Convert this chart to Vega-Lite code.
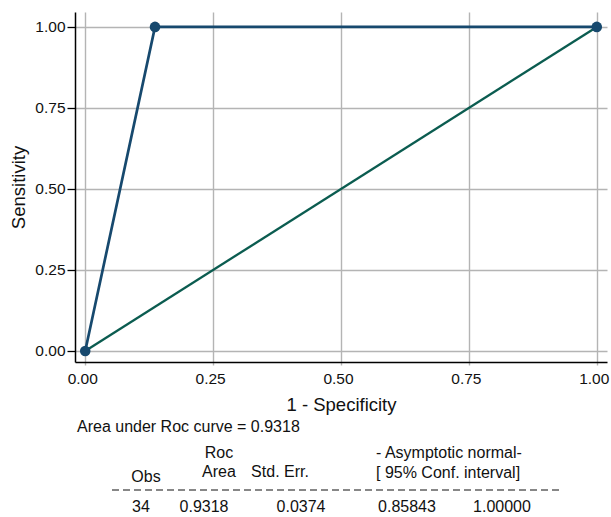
{
  "$schema": "https://vega.github.io/schema/vega-lite/v6.json",
  "autosize": {"type": "none"},
  "padding": {"left": 75, "top": 12, "right": 4, "bottom": 155},
  "width": 532,
  "height": 350,
  "background": "white",
  "config": {
    "view": {"stroke": null},
    "font": "Liberation Sans",
    "text": {"font": "Liberation Sans", "fontSize": 16, "color": "#111111"}
  },
  "layer": [
    {
      "layer": [
        {
          "data": {"values": [{"fpr": 0, "sens": 0}, {"fpr": 1, "sens": 1}]},
          "mark": {"type": "line", "color": "#0b5c50", "strokeWidth": 2.3},
          "encoding": {
            "x": {
              "field": "fpr", "type": "quantitative",
              "scale": {"domain": [-0.02, 1.02], "nice": false, "zero": false},
              "axis": {
                "title": "1 - Specificity",
                "values": [0, 0.25, 0.5, 0.75, 1],
                "format": ".2f",
                "grid": true, "gridColor": "#b4b4b4", "gridWidth": 1.4,
                "domainColor": "#000000", "domainWidth": 1.5,
                "tickColor": "#b4b4b4", "tickSize": 3, "tickWidth": 1.4,
                "labelFontSize": 15.5, "labelColor": "#111111", "labelPadding": 6,
                "labelFont": "Liberation Sans", "labelFlush": false, "labelOffset": -3,
                "titleFontSize": 18.5, "titleFontWeight": "normal", "titleColor": "#111111",
                "titleFont": "Liberation Sans", "titlePadding": 9
              }
            },
            "y": {
              "field": "sens", "type": "quantitative",
              "scale": {"domain": [-0.034, 1.046], "nice": false, "zero": false},
              "axis": {
                "title": "Sensitivity",
                "values": [0, 0.25, 0.5, 0.75, 1],
                "format": ".2f",
                "grid": true, "gridColor": "#b4b4b4", "gridWidth": 1.4,
                "domainColor": "#000000", "domainWidth": 1.5,
                "tickColor": "#000000", "tickSize": 8, "tickWidth": 1.3,
                "labelFontSize": 15.5, "labelColor": "#111111", "labelPadding": 2,
                "labelFont": "Liberation Sans", "labelFlush": false,
                "titleFontSize": 18.5, "titleFontWeight": "normal", "titleColor": "#111111",
                "titleFont": "Liberation Sans", "titlePadding": 6
              }
            }
          }
        },
        {
          "data": {"values": [{"fpr": 0, "sens": 0}, {"fpr": 0.1364, "sens": 1}, {"fpr": 1, "sens": 1}]},
          "mark": {"type": "line", "color": "#17496e", "strokeWidth": 2.7},
          "encoding": {
            "x": {"field": "fpr", "type": "quantitative"},
            "y": {"field": "sens", "type": "quantitative"}
          }
        },
        {
          "data": {"values": [{"fpr": 0, "sens": 0}, {"fpr": 0.1364, "sens": 1}, {"fpr": 1, "sens": 1}]},
          "mark": {"type": "point", "filled": true, "color": "#17496e", "size": 112, "opacity": 1},
          "encoding": {
            "x": {"field": "fpr", "type": "quantitative"},
            "y": {"field": "sens", "type": "quantitative"}
          }
        }
      ]
    },
    {
      "data": {"values": [
        {"text": "Area under Roc curve = 0.9318", "col": 0, "line": 0},
        {"text": "- Asymptotic normal-", "col": 1, "line": 1},
        {"text": "[ 95% Conf. interval]", "col": 1, "line": 2}
      ]},
      "mark": {"type": "text", "align": "left", "baseline": "middle"},
      "encoding": {
        "x": {"field": "col", "type": "quantitative", "axis": null,
              "scale": {"domain": [0, 1], "range": [2, 301], "nice": false, "zero": false}},
        "y": {"field": "line", "type": "quantitative", "axis": null,
              "scale": {"domain": [0, 1, 2], "range": [415, 441, 461], "nice": false, "zero": false}},
        "text": {"field": "text"}
      }
    },
    {
      "data": {"values": [
        {"text": "Obs", "col": 0, "line": 2},
        {"text": "Roc", "col": 1, "line": 0},
        {"text": "Area", "col": 1, "line": 1},
        {"text": "Std. Err.", "col": 2, "line": 1}
      ]},
      "mark": {"type": "text", "align": "center", "baseline": "middle"},
      "encoding": {
        "x": {"field": "col", "type": "quantitative", "axis": null,
              "scale": {"domain": [0, 1, 2], "range": [71, 144, 205], "nice": false, "zero": false}},
        "y": {"field": "line", "type": "quantitative", "axis": null,
              "scale": {"domain": [0, 1, 2], "range": [441, 460, 465], "nice": false, "zero": false}},
        "text": {"field": "text"}
      }
    },
    {
      "data": {"values": [
        {"text": "34", "col": 0, "line": 0},
        {"text": "0.9318", "col": 1, "line": 0},
        {"text": "0.0374", "col": 2, "line": 0},
        {"text": "0.85843", "col": 3, "line": 0},
        {"text": "1.00000", "col": 4, "line": 0}
      ]},
      "mark": {"type": "text", "align": "center", "baseline": "middle"},
      "encoding": {
        "x": {"field": "col", "type": "quantitative", "axis": null,
              "scale": {"domain": [0, 1, 2, 3, 4], "range": [66, 129, 226, 332, 427], "nice": false, "zero": false}},
        "y": {"field": "line", "type": "quantitative", "axis": null,
              "scale": {"domain": [0, 1], "range": [495, 513], "nice": false, "zero": false}},
        "text": {"field": "text"}
      }
    },
    {
      "data": {"values": [{"start": 0, "end": 1, "line": 0}]},
      "mark": {"type": "rule", "color": "#111111", "strokeWidth": 1.2, "strokeDash": [7, 4]},
      "encoding": {
        "x": {"field": "start", "type": "quantitative", "axis": null,
              "scale": {"domain": [0, 1], "range": [37, 488], "nice": false, "zero": false}},
        "x2": {"field": "end"},
        "y": {"field": "line", "type": "quantitative", "axis": null,
              "scale": {"domain": [0, 1], "range": [478, 500], "nice": false, "zero": false}}
      }
    }
  ],
  "resolve": {"scale": {"x": "independent", "y": "independent"}}
}
